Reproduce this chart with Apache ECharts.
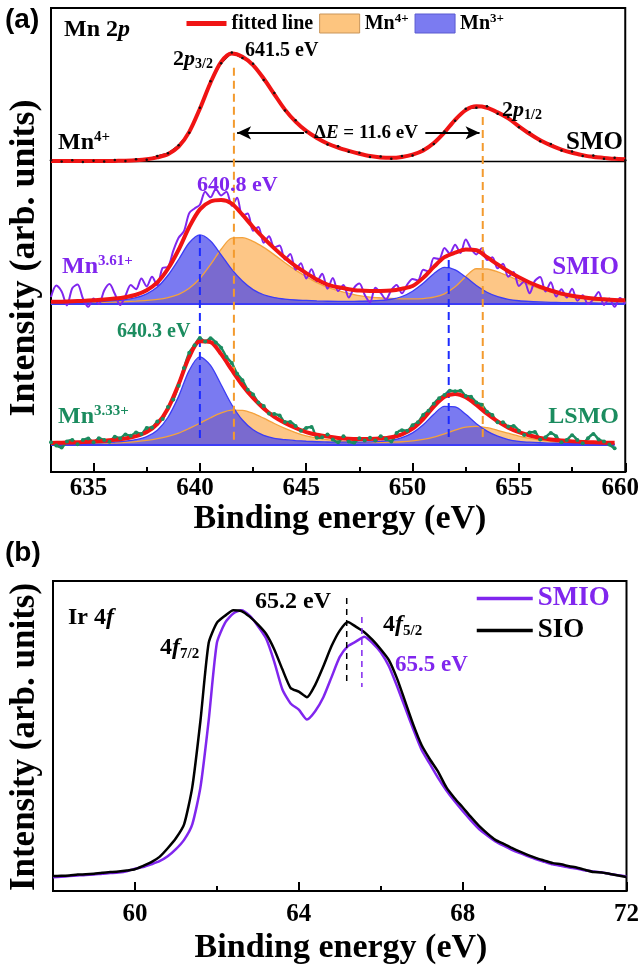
<!DOCTYPE html>
<html><head><meta charset="utf-8">
<script src="https://cdn.jsdelivr.net/npm/echarts@6/dist/echarts.min.js"></script>
<style>html,body{margin:0;padding:0;background:#fff}#c{width:642px;height:969px}</style>
</head><body><div id="c"></div>
<script>
// ---------------- Panel (a): Mn 2p ----------------
const E_HALF = [633,633.5,634,634.5,635,635.5,636,636.5,637,637.5,638,638.5,639,639.5,640,640.5,641,641.5,642,642.5,643,643.5,644,644.5,645,645.5,646,646.5,647,647.5,648,648.5,649,649.5,650,650.5,651,651.5,652,652.5,653,653.5,654,654.5,655,655.5,656,656.5,657,657.5,658,658.5,659,659.5,660];
const E_QUARTER = [633,633.25,633.5,633.75,634,634.25,634.5,634.75,635,635.25,635.5,635.75,636,636.25,636.5,636.75,637,637.25,637.5,637.75,638,638.25,638.5,638.75,639,639.25,639.5,639.75,640,640.25,640.5,640.75,641,641.25,641.5,641.75,642,642.25,642.5,642.75,643,643.25,643.5,643.75,644,644.25,644.5,644.75,645,645.25,645.5,645.75,646,646.25,646.5,646.75,647,647.25,647.5,647.75,648,648.25,648.5,648.75,649,649.25,649.5,649.75,650,650.25,650.5,650.75,651,651.25,651.5,651.75,652,652.25,652.5,652.75,653,653.25,653.5,653.75,654,654.25,654.5,654.75,655,655.25,655.5,655.75,656,656.25,656.5,656.75,657,657.25,657.5,657.75,658,658.25,658.5,658.75,659,659.25,659.5,659.75,660];

// stacking offsets of the three spectra (arb. units)
const OFFSET_SMO = 66.9, OFFSET_SMIO = 36.2, OFFSET_LSMO = 5.8;

const SMO_DATA = [0.3,0.0,0.3,-0.1,0.2,0.0,0.35,0.1,0.5,0.4,1.2,1.8,3.5,6.2,11.6,17.3,21.2,23.5,22.3,21.1,17.6,14.8,11.0,8.9,6.4,5.4,3.7,3.3,2.1,1.9,1.0,1.1,0.6,1.2,1.3,2.6,3.8,6.5,8.8,11.4,11.6,11.9,10.3,9.6,7.4,6.3,4.4,3.8,2.4,2.2,1.2,1.3,0.6,0.8,0.3];
const SMO_FIT = [0.1,0.1,0.1,0.1,0.1,0.1,0.15,0.2,0.3,0.5,0.9,1.6,3.2,6.4,11.4,17.0,21.5,23.3,22.6,20.8,17.9,14.5,11.2,8.6,6.6,5.1,3.9,3.0,2.3,1.7,1.2,0.9,0.8,1.0,1.5,2.4,4.0,6.3,9.0,11.1,11.9,11.6,10.6,9.3,7.6,6.0,4.6,3.5,2.6,1.9,1.4,1.0,0.8,0.6,0.5];

const SMIO_DATA = [1.5,4.0,2.7,-0.3, 3.4,4.2,1.2,-0.6, 1.2,0.0,2.9,4.3, 2.2,-0.2,1.8,4.1, 3.2,5.5,3.8,5.9, 4.0,7.8,8.0,11.5, 14.3,15.7,19.6,20.6, 21.4,24.2,23.0,24.8, 23.4,24.2,21.2,22.9, 19.0,19.5,15.8,16.6, 13.2,14.6,12.2,12.6, 9.6,10.8,7.4,8.8, 5.5,7.5,4.9,6.5, 3.3,5.6,2.8,4.1, 1.4,3.5,4.4,2.0, 0.4,3.5,2.4,1.0, 3.0,4.1,2.3,4.2, 5.4,5.1,7.4,7.0, 9.9,9.7,12.1,10.9, 12.8,11.0,13.9,11.9, 10.7,12.0,9.5,10.1, 7.7,8.7,5.9,6.9, 3.9,4.9,2.3,5.0, 5.8,2.7,4.7,1.6, 3.2,1.4,3.3,0.7, 1.9,0.0,1.0,2.6, -0.2,1.2,-0.6,1.3, 0.1];
const SMIO_FIT = [0.47,0.51,0.59,0.68,0.81,0.96,1.17,1.48,2.0,2.97,4.65,7.6,11.7,16.6,20.4,22.1,22.4,21.65,19.25,16.6,14.2,12.0,9.97,8.17,6.67,5.27,4.2,3.6,3.2,2.9,2.8,2.8,2.9,3.3,3.87,5.64,8.0,10.1,11.07,11.76,11.6,10.1,8.54,7.07,5.76,4.65,3.71,2.92,2.25,1.78,1.45,1.19,1.02,0.88,0.79];
const SMIO_MN4 = [0.22,0.23,0.26,0.29,0.33,0.38,0.44,0.53,0.63,0.77,1.0,1.4,2.1,3.4,5.5,8.5,11.8,14.2,14.3,13.5,12.2,10.6,8.9,7.3,5.9,4.6,3.6,2.9,2.3,1.8,1.5,1.33,1.2,1.12,1.1,1.18,1.47,2.2,3.7,5.95,7.6,7.55,6.95,6.05,5.05,4.1,3.26,2.55,1.93,1.5,1.2,0.97,0.82,0.7,0.62];
const SMIO_MN3 = [0.25,0.28,0.33,0.39,0.48,0.58,0.73,0.95,1.37,2.2,3.65,6.2,9.6,13.2,14.9,13.6,10.6,7.45,4.95,3.1,2.0,1.4,1.07,0.87,0.77,0.67,0.6,0.58,0.58,0.6,0.65,0.77,1.03,1.62,2.77,4.46,6.54,7.88,7.37,5.81,4.0,2.54,1.59,1.02,0.71,0.55,0.45,0.37,0.32,0.28,0.25,0.22,0.2,0.18,0.17];

const LSMO_DATA = [0.6,-0.1,-0.5,0.8, 1.1,0.2,1.1,1.4, 0.6,1.5,1.1,0.7, 1.8,1.5,2.3,2.0, 2.7,2.4,3.7,3.8, 5.1,5.6,8.2,9.8, 12.8,16.6,19.9,21.5, 23.1,22.3,23.0,22.1, 21.0,19.0,17.7,15.4, 14.0,11.9,10.9,9.2, 8.4,6.8,6.7,6.4, 5.0,5.0,4.1,3.1, 3.7,3.9,1.6,1.7, 2.3,1.2,0.6,1.9, 0.8,0.5,1.5,1.0, 1.6,1.0,1.9,1.3, 0.8,2.6,3.2,3.1, 4.3,4.9,6.5,7.4, 8.9,10.1,10.8,11.7, 11.6,11.7,10.6,10.4, 9.2,8.7,7.2,6.5, 4.9,4.9,4.0,4.1, 3.1,2.2,2.7,2.8, 1.2,1.7,2.6,1.9, 0.6,1.1,2.1,1.1, 0.4,1.5,2.4,1.2, 0.8,0.1,-0.7];
const LSMO_FIT = [0.44,0.51,0.57,0.66,0.79,0.93,1.15,1.44,1.93,2.82,4.57,7.9,13.1,19.0,22.4,22.2,19.6,16.2,12.9,10.15,7.9,6.1,4.76,3.68,2.8,2.22,1.84,1.55,1.38,1.32,1.31,1.41,1.68,2.32,3.54,5.62,8.3,10.4,11.0,10.3,8.67,6.75,5.1,3.76,2.77,2.07,1.55,1.21,0.97,0.8,0.67,0.6,0.53,0.49];
const LSMO_MN4 = [0.21,0.24,0.27,0.3,0.35,0.4,0.48,0.58,0.75,1.0,1.37,1.9,2.6,3.6,4.7,5.9,6.95,7.55,7.5,6.85,5.8,4.65,3.6,2.7,1.97,1.5,1.17,0.92,0.76,0.67,0.62,0.6,0.64,0.72,0.92,1.25,1.74,2.43,3.21,3.86,4.05,3.74,3.19,2.56,1.95,1.45,1.05,0.78,0.6,0.47,0.38,0.33,0.29,0.27];
const LSMO_MN3 = [0.23,0.27,0.3,0.36,0.44,0.53,0.67,0.86,1.18,1.82,3.2,6.0,10.5,16.1,19.0,17.2,13.0,8.7,5.4,3.3,2.1,1.45,1.16,0.98,0.83,0.72,0.67,0.63,0.62,0.65,0.69,0.81,1.04,1.6,2.62,4.37,6.66,8.35,8.24,6.63,4.62,3.01,1.91,1.2,0.82,0.62,0.5,0.43,0.37,0.33,0.29,0.27,0.24,0.22];

// peak-position guide lines (energy, top, bottom) in arb. units
const MN4_GUIDE_E = [641.6, 653.3], MN4_GUIDE_TOP = [87.1, 76.5], MN4_GUIDE_BOTTOM = [6.9, 6.9];
const MN3_GUIDE_E = [640.0, 651.7], MN3_GUIDE_TOP = [51.1, 45.7], MN3_GUIDE_BOTTOM = [7.3, 6.5];
const DELTA_ARROWS = [[644.9, 641.75], [650.6, 653.15]]; const DELTA_Y = 73.1;

const A_MAJOR = [635, 640, 645, 650, 655, 660];
const A_MINOR = [637.5, 642.5, 647.5, 652.5, 657.5];

// ---------------- Panel (b): Ir 4f ----------------
const E_B = [58,58.2,58.4,58.6,58.8,59,59.2,59.4,59.6,59.8,60,60.2,60.4,60.6,60.8,61,61.2,61.4,61.6,61.8,62,62.2,62.4,62.6,62.8,63,63.2,63.4,63.6,63.8,64,64.2,64.4,64.6,64.8,65,65.2,65.4,65.6,65.8,66,66.2,66.4,66.6,66.8,67,67.2,67.4,67.6,67.8,68,68.2,68.4,68.6,68.8,69,69.2,69.4,69.6,69.8,70,70.2,70.4,70.6,70.8,71,71.2,71.4,71.6,71.8,72];
const SIO_B = [4.8,4.9,5.0,5.3,5.4,5.6,5.9,6.1,6.3,6.6,7.0,8.1,9.3,11.0,13.8,17.0,21.5,33.5,55.0,80.0,86.5,88.8,90.6,90.3,88.5,86.0,83.0,78.0,71.5,65.5,64.3,62.5,66.5,72.5,79.0,84.0,86.8,85.2,83.5,81.0,78.0,74.5,68.5,61.0,53.5,47.0,42.5,38.5,33.5,30.0,27.0,23.9,21.0,18.6,16.5,15.2,13.9,12.7,11.6,10.6,9.8,9.0,8.6,8.0,7.5,6.8,6.1,6.0,5.5,5.0,4.5];
const SMIO_B = [4.4,4.6,4.8,5.0,5.2,5.3,5.6,5.8,6.0,6.4,7.2,7.7,8.6,9.6,11.2,13.5,16.5,21.5,33.5,55.0,80.0,86.5,89.5,90.6,88.8,85.5,81.5,74.0,65.0,60.5,58.5,55.3,58.0,62.5,69.0,75.5,79.0,80.5,82.0,80.0,77.0,72.5,66.0,59.0,52.0,45.5,41.0,36.5,32.5,29.0,25.8,22.8,20.0,17.9,16.0,14.6,13.3,12.2,11.2,10.2,9.4,8.6,8.1,7.6,7.2,6.6,6.3,6.0,5.5,5.1,4.7];
const B_GUIDE_E = [65.17, 65.54], B_GUIDE_TOP = [94.5, 88.4], B_GUIDE_BOTTOM = [66.5, 65.8];
const B_MAJOR = [60, 64, 68, 72];
const B_MINOR = [62, 66, 70];

// ---------------- styling ----------------
const SERIF = '"Liberation Serif", "Times New Roman", serif';
const SANS = '"Liberation Sans", Arial, sans-serif';
const RED = '#f01414', PURPLE = '#8026ee', GREEN = '#1b8c5f';
const ORANGE_FILL = 'rgba(252,176,88,0.72)', BLUE_FILL = 'rgba(70,70,235,0.72)';
const ORANGE_LINE = '#f4a23c', BLUE_LINE = '#3c3cf5';
const ORANGE_DASH = '#f39a2e', BLUE_DASH = '#1c2bff';

function pairs(xs, ys, off) {
  const n = Math.min(xs.length, ys.length), out = [];
  for (let i = 0; i < n; i++) out.push([xs[i], ys[i] + (off || 0)]);
  return out;
}
function lineS(name, data, color, width, extra) {
  return Object.assign({ type: 'line', name, xAxisIndex: 0, yAxisIndex: 0, data, symbol: 'none',
    lineStyle: { color, width }, itemStyle: { color }, silent: true }, extra || {});
}
// filled component: polygon between the component curve and its spectrum baseline
function componentFill(name, xs, ys, off, fill) {
  return { type: 'custom', name, coordinateSystem: 'cartesian2d', xAxisIndex: 0, yAxisIndex: 0,
    silent: true, data: [[xs[0], off]], itemStyle: { color: fill },
    renderItem: function (params, api) {
      const n = Math.min(xs.length, ys.length), pts = [];
      for (let i = 0; i < n; i++) pts.push(api.coord([xs[i], off + ys[i]]));
      pts.push(api.coord([xs[n - 1], off]));
      pts.push(api.coord([xs[0], off]));
      return { type: 'polygon', shape: { points: pts, smooth: 0.25 }, style: { fill: fill } };
    } };
}
function componentLine(name, xs, ys, off, stroke) {
  return lineS(name, pairs(xs, ys, off), stroke, 1.3, { smooth: 0.3 });
}
function guides(xs, tops, bottoms, color, xi, yi, dash, width) {
  return xs.map((x, i) => ({ type: 'line', name: '_guide', xAxisIndex: xi, yAxisIndex: yi,
    data: [[x, tops[i]], [x, bottoms[i]]], symbol: 'none', silent: true,
    lineStyle: { color, width, type: dash } }));
}

// rich text (zrender style)
function rich(size, color) {
  const s = Math.round(size * 0.62), pad = Math.round(size * 0.5);
  const mk = (fs, italic, padding) => ({ fontSize: fs, fontFamily: SERIF, fontWeight: 'bold',
    fontStyle: italic ? 'italic' : 'normal', fill: color,
    font: (italic ? 'italic ' : '') + 'bold ' + fs + 'px ' + SERIF, padding });
  return { b: mk(size, false), i: mk(size, true), sup: mk(s, false, [0, 0, pad, 0]), sub: mk(s, false, [pad, 0, 0, 0]) };
}
function txt(x, y, text, size, color, align, family) {
  const fam = family || SERIF;
  return { type: 'text', x, y, silent: true, z: 100,
    style: { text, x: 0, y: 0, fill: color, align: align || 'left', verticalAlign: 'middle',
      textAlign: align || 'left', textVerticalAlign: 'middle',
      font: 'bold ' + size + 'px ' + fam, fontSize: size, fontFamily: fam, fontWeight: 'bold',
      rich: rich(size, color) } };
}
function vtxt(x, y, text, size) {
  const t = txt(x, y, text, size, '#000', 'center');
  t.rotation = Math.PI / 2;
  return t;
}

const series = [];
// SMO
series.push(lineS('_bg', [[633, OFFSET_SMO], [660, OFFSET_SMO]], '#000', 1.5, {
  markLine: { silent: true, symbol: ['none', 'arrow'], symbolSize: [10, 14], animation: false,
    lineStyle: { color: '#000', width: 2, type: 'solid' }, label: { show: false },
    data: DELTA_ARROWS.map(a => [{ coord: [a[0], DELTA_Y] }, { coord: [a[1], DELTA_Y] }]) }
}));
series.push(lineS('_smo', pairs(E_HALF, SMO_DATA, OFFSET_SMO), '#111', 1.5, { symbol: 'circle', symbolSize: 2.5, showSymbol: true }));
series.push(lineS('fitted line', pairs(E_HALF, SMO_FIT, OFFSET_SMO), RED, 4, { smooth: 0.3 }));
// components (fills)
series.push(componentFill('Mn4+', E_HALF, SMIO_MN4, OFFSET_SMIO, ORANGE_FILL));
series.push(componentFill('Mn4+', E_HALF, LSMO_MN4, OFFSET_LSMO, ORANGE_FILL));
series.push(componentLine('_o1', E_HALF, SMIO_MN4, OFFSET_SMIO, ORANGE_LINE));
series.push(componentLine('_o2', E_HALF, LSMO_MN4, OFFSET_LSMO, ORANGE_LINE));
series.push(componentFill('Mn3+', E_HALF, SMIO_MN3, OFFSET_SMIO, BLUE_FILL));
series.push(componentFill('Mn3+', E_HALF, LSMO_MN3, OFFSET_LSMO, BLUE_FILL));
series.push(componentLine('_b1', E_HALF, SMIO_MN3, OFFSET_SMIO, BLUE_LINE));
series.push(componentLine('_b2', E_HALF, LSMO_MN3, OFFSET_LSMO, BLUE_LINE));
// component baselines
series.push(lineS('_bl1', [[633, OFFSET_SMIO], [660, OFFSET_SMIO]], BLUE_LINE, 2));
series.push(lineS('_bl2', [[633, OFFSET_LSMO], [659.5, OFFSET_LSMO]], BLUE_LINE, 2));
// measured data
series.push(lineS('_smio', pairs(E_QUARTER, SMIO_DATA, OFFSET_SMIO), PURPLE, 2, { smooth: 0.3 }));
series.push(lineS('_lsmo', pairs(E_QUARTER, LSMO_DATA, OFFSET_LSMO), GREEN, 2.5, { smooth: 0.3, symbol: 'circle', symbolSize: 4, showSymbol: true }));
// guide lines
series.push(...guides(MN4_GUIDE_E, MN4_GUIDE_TOP, MN4_GUIDE_BOTTOM, ORANGE_DASH, 0, 0, [8, 5], 2));
series.push(...guides(MN3_GUIDE_E, MN3_GUIDE_TOP, MN3_GUIDE_BOTTOM, BLUE_DASH, 0, 0, [8, 5], 2));
// fits
series.push(lineS('fitted line', pairs(E_HALF, SMIO_FIT, OFFSET_SMIO), RED, 4, { smooth: 0.3 }));
series.push(lineS('fitted line', pairs(E_HALF, LSMO_FIT, OFFSET_LSMO), RED, 4, { smooth: 0.3 }));
// panel b
series.push({ type: 'line', name: 'SMIO', xAxisIndex: 2, yAxisIndex: 1, data: pairs(E_B, SMIO_B), smooth: 0.2,
  symbol: 'none', lineStyle: { color: PURPLE, width: 2.5 }, itemStyle: { color: PURPLE }, silent: true });
series.push({ type: 'line', name: 'SIO', xAxisIndex: 2, yAxisIndex: 1, data: pairs(E_B, SIO_B), smooth: 0.2,
  symbol: 'none', lineStyle: { color: '#000', width: 2.5 }, itemStyle: { color: '#000' }, silent: true });
series.push(...guides([B_GUIDE_E[0]], [B_GUIDE_TOP[0]], [B_GUIDE_BOTTOM[0]], '#000', 2, 1, [6, 5], 1.5));
series.push(...guides([B_GUIDE_E[1]], [B_GUIDE_TOP[1]], [B_GUIDE_BOTTOM[1]], PURPLE, 2, 1, [6, 5], 1.5));

const tickLabel = { color: '#000', fontFamily: SERIF, fontWeight: 'bold', fontSize: 25 };
function mainX(grid, min, max, major, margin, pad) {
  return { gridIndex: grid, type: 'value', min, max, position: 'bottom',
    axisLine: { show: true, onZero: false, lineStyle: { color: '#000', width: 2 } },
    axisTick: { show: true, inside: true, length: 9, lineStyle: { color: '#000', width: 2 }, customValues: major },
    axisLabel: Object.assign({ show: true, margin, customValues: major, padding: pad }, tickLabel),
    splitLine: { show: false } };
}
function minorX(grid, min, max, minor) {
  return { gridIndex: grid, type: 'value', min, max, position: 'bottom', offset: 0,
    axisLine: { show: false }, axisLabel: { show: false }, splitLine: { show: false },
    axisTick: { show: true, inside: true, length: 5, lineStyle: { color: '#000', width: 2 }, customValues: minor } };
}
function yAx(grid) {
  return { gridIndex: grid, type: 'value', min: 0, max: 100,
    axisLine: { show: true, lineStyle: { color: '#000', width: 2 } },
    axisTick: { show: false }, axisLabel: { show: false }, splitLine: { show: false } };
}

const legendRich = {
  b: { fontFamily: SERIF, fontWeight: 'bold', fontSize: 20, color: '#000' },
  p: { fontFamily: SERIF, fontWeight: 'bold', fontSize: 13, color: '#000', padding: [0, 0, 10, 0] }
};
const hideSym = { opacity: 0 };

const option = {
  animation: false,
  backgroundColor: '#fff',
  grid: [
    { left: 51, top: 8, width: 577, height: 464, show: true, borderColor: '#000', borderWidth: 2, backgroundColor: 'transparent' },
    { left: 53, top: 581, width: 577, height: 310, show: true, borderColor: '#000', borderWidth: 2, backgroundColor: 'transparent' }
  ],
  xAxis: [
    mainX(0, 633, 660, A_MAJOR, 4, [0, 10, 0, 0]),
    minorX(0, 633, 660, A_MINOR),
    mainX(1, 58, 72, B_MAJOR, 11, [0, 0, 0, 0]),
    minorX(1, 58, 72, B_MINOR)
  ],
  yAxis: [yAx(0), yAx(1)],
  legend: [
    { left: 184, top: 12, padding: 0, itemWidth: 40, itemHeight: 19, itemGap: 6, selectedMode: false,
      data: [
        { name: 'fitted line', itemStyle: hideSym, lineStyle: { width: 5, color: RED } },
        { name: 'Mn4+', icon: 'rect', itemStyle: { color: '#fdc57f', borderColor: '#c9955a', borderWidth: 1 } },
        { name: 'Mn3+', icon: 'rect', itemStyle: { color: '#7b7bf1', borderColor: '#5a5ad0', borderWidth: 1 } }
      ],
      formatter: n => n === 'fitted line' ? '{b|fitted line}' : '{b|Mn}{p|' + n.slice(2) + '}',
      textStyle: { fontFamily: SERIF, fontWeight: 'bold', fontSize: 20, color: '#000', rich: legendRich } },
    { orient: 'vertical', left: 475, top: 585, padding: 0, itemWidth: 56, itemHeight: 20, itemGap: 5, selectedMode: false,
      data: [ { name: 'SMIO', itemStyle: hideSym, lineStyle: { width: 3.5, color: PURPLE }, textStyle: { color: PURPLE } },
              { name: 'SIO', itemStyle: hideSym, lineStyle: { width: 3.5, color: '#000' }, textStyle: { color: '#000' } } ],
      textStyle: { fontFamily: SERIF, fontWeight: 'bold', fontSize: 27 } }
  ],
  series,
  graphic: [
    txt(5, 20, '(a)', 28, '#000', 'left', SANS),
    txt(64, 30, '{b|Mn 2}{i|p}', 24, '#000'),
    txt(173, 59, '{b|2}{i|p}{sub|3/2}', 22, '#000'),
    txt(245, 51, '{b|641.5 eV}', 20, '#000'),
    txt(58, 143, '{b|Mn}{sup|4+}', 24, '#000'),
    txt(366, 133, '{b|Δ}{i|E}{b| = 11.6 eV}', 19, '#000', 'center'),
    txt(502, 110, '{b|2}{i|p}{sub|1/2}', 22, '#000'),
    txt(623, 143, '{b|SMO}', 25, '#000', 'right'),
    txt(197, 185, '{b|640.8 eV}', 22, PURPLE),
    txt(62, 267, '{b|Mn}{sup|3.61+}', 24, PURPLE),
    txt(619, 268, '{b|SMIO}', 25, PURPLE, 'right'),
    txt(117, 332, '{b|640.3 eV}', 20, GREEN),
    txt(58, 417, '{b|Mn}{sup|3.33+}', 24, GREEN),
    txt(619, 417, '{b|LSMO}', 24, GREEN, 'right'),
    txt(340, 519, 'Binding energy (eV)', 34, '#000', 'center'),
    vtxt(25, 258, 'Intensity (arb. units)', 36),
    txt(5, 553, '(b)', 28, '#000', 'left', SANS),
    txt(68, 618, '{b|Ir 4}{i|f}', 24, '#000'),
    txt(255, 602, '{b|65.2 eV}', 24, '#000'),
    txt(160, 648, '{b|4}{i|f}{sub|7/2}', 24, '#000'),
    txt(383, 625, '{b|4}{i|f}{sub|5/2}', 24, '#000'),
    txt(395, 665, '{b|65.5 eV}', 23, PURPLE),
    txt(341, 948, 'Binding energy (eV)', 34, '#000', 'center'),
    vtxt(25, 737, 'Intensity (arb. units)', 35)
  ]
};

const chart = echarts.init(document.getElementById('c'), null, { renderer: 'canvas' });
chart.setOption(option);
</script></body></html>
